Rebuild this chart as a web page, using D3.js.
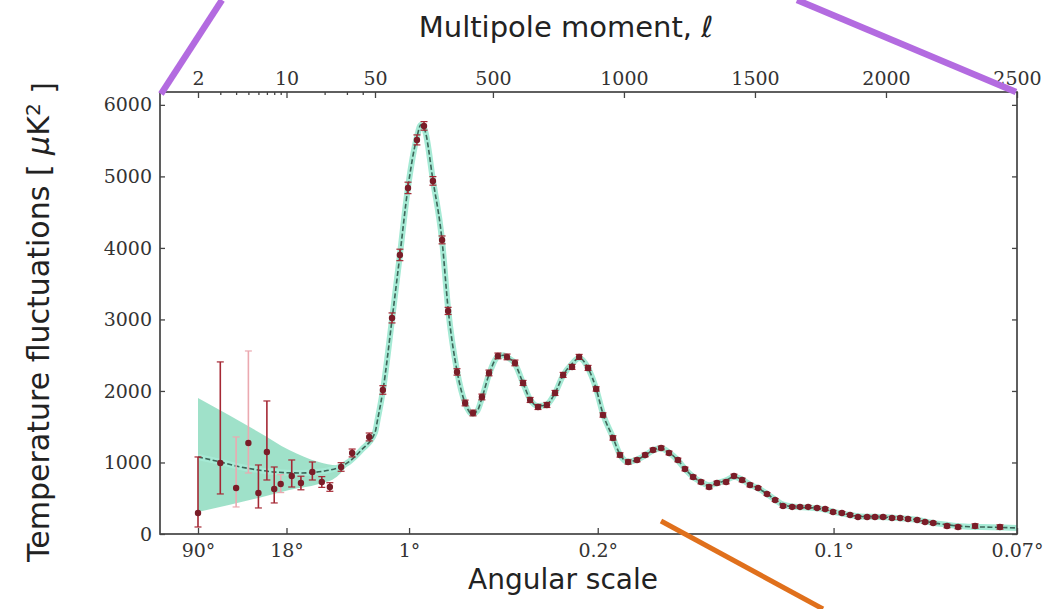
<!DOCTYPE html>
<html>
<head>
<meta charset="utf-8">
<script src="https://cdn.jsdelivr.net/npm/d3@7"></script>
<style>
  body { margin: 0; background: #fff; }
  .tick text { font-family: "DejaVu Serif", serif; font-size: 19px; fill: #333; }
  .tick line { stroke: #444; stroke-width: 1.3; }
  .axis-label { font-family: "DejaVu Sans", sans-serif; font-size: 28px; fill: #222; }
</style>
</head>
<body>
<div id="chart"></div>
<script>
// low multipoles (unbinned), value + asymmetric errors, D_l in uK^2
var lowEll = [2, 3, 4, 5, 6, 7, 8, 9, 11, 13, 16, 19, 22, 27, 33, 45];
var lowVal = [294, 993, 643, 1273, 573, 1147, 629, 699, 811, 713, 867, 727, 657, 937, 1133, 1357];
var lowErrDown = [196, 433, 265, 420, 209, 392, 195, 120, 154, 95, 112, 75, 60, 60, 55, 55];
var lowErrUp = [783, 1413, 714, 1286, 392, 713, 308, 130, 224, 95, 140, 75, 60, 60, 55, 55];
var paleEll = [4, 5, 9];

// binned high multipoles
var highEll = [80, 115, 145, 176, 210, 237, 271, 306, 329, 363, 394, 424, 458, 485, 519, 554, 584, 615, 642, 672,
    706, 737, 768, 802, 829, 863, 894, 920, 958, 985, 1016, 1050, 1081, 1111, 1142, 1172, 1206, 1233, 1264, 1294,
    1325, 1355, 1390, 1420, 1451, 1481, 1512, 1546, 1577, 1607, 1642, 1672, 1703, 1737, 1768, 1798, 1832, 1863, 1893, 1928,
    1958, 1989, 2023, 2054, 2084, 2119, 2149, 2180, 2233, 2275, 2340, 2435];
var highVal = [2014, 3021, 3902, 4839, 5510, 5706, 4937, 4112, 3119, 2266, 1832, 1692, 1916, 2252, 2490, 2476, 2392, 2112, 1874, 1776,
    1804, 1972, 2224, 2336, 2476, 2322, 2028, 1664, 1343, 1105, 1007, 1035, 1105, 1175, 1203, 1133, 1035, 909, 797, 727,
    657, 713, 727, 811, 755, 685, 643, 559, 475, 392, 378, 378, 378, 364, 350, 308, 294, 266, 238, 238,
    238, 238, 224, 224, 210, 196, 168, 154, 112, 98, 112, 98];
var highErr = [60, 70, 80, 80, 70, 60, 60, 55, 50, 45, 40, 40, 40, 40, 40, 40, 40, 35, 35, 35,
    35, 35, 35, 35, 35, 35, 30, 30, 30, 30, 30, 25, 25, 25, 25, 25, 25, 25, 25, 25,
    25, 25, 25, 25, 25, 25, 20, 20, 20, 20, 20, 20, 20, 20, 20, 20, 20, 20, 20, 20,
    20, 20, 20, 20, 20, 20, 20, 20, 25, 25, 30, 30];

// best fit model
var theoryEll = [2, 3, 4, 6, 8, 13, 20, 31, 39, 50, 60, 80, 115, 145, 176, 210, 225, 240, 271, 306,
    329, 363, 394, 420, 440, 458, 485, 519, 540, 554, 584, 615, 642, 672, 700, 737, 768, 802, 829, 863,
    894, 920, 958, 985, 1016, 1050, 1081, 1111, 1142, 1172, 1206, 1233, 1264, 1294, 1325, 1355, 1390, 1420, 1451, 1481,
    1512, 1546, 1577, 1607, 1650, 1700, 1750, 1800, 1850, 1900, 2000, 2100, 2200, 2300, 2400, 2500];
var theoryVal = [1077, 1007, 951, 895, 867, 853, 881, 1007, 1175, 1420, 1600, 2000, 3000, 3900, 4850, 5550, 5720, 5650, 4950, 4100,
    3150, 2280, 1830, 1680, 1720, 1900, 2230, 2480, 2500, 2470, 2380, 2110, 1880, 1790, 1800, 1970, 2220, 2380, 2460, 2320,
    2030, 1680, 1350, 1110, 1010, 1040, 1100, 1170, 1200, 1140, 1030, 910, 800, 730, 680, 710, 750, 800, 760, 690,
    640, 560, 480, 410, 380, 370, 355, 310, 275, 245, 235, 205, 145, 105, 95, 85];

// cosmic variance band at low l
var bandEll = [2, 3.5, 6, 10.5, 18, 25, 31];
var bandLow = [308, 406, 503, 615, 699, 800, 985];
var bandHigh = [1902, 1664, 1427, 1175, 1007, 960, 1030];

// axes
var topTicks = [2, 10, 50, 500, 1000, 1500, 2000, 2500];
var topMinor = [3, 4, 5, 6, 7, 8, 9, 20, 30, 40];
var angleEll = [2, 10, 180, 900, 1800, 2500];
var angleLabels = ["90°", "18°", "1°", "0.2°", "0.1°", "0.07°"];
var yTicks = [0, 1000, 2000, 3000, 4000, 5000, 6000];

var svgWidth = 1045;
var svgHeight = 609;
var plot = { left: 160, right: 1017, top: 92, bottom: 534 };

var svg = d3.select("#chart")
    .append("svg")
    .attr("width", svgWidth)
    .attr("height", svgHeight);

// x: log for l < 50, linear above (built as polylinear scale)
var xLog = d3.scaleLog().domain([2, 50]).range([198, 375]);
var xLin = d3.scaleLinear().domain([50, 2500]).range([375, plot.right]);
var knots = d3.range(2, 50, 0.25).concat([50, 2500]);
var x = d3.scaleLinear()
    .domain(knots)
    .range(knots.map(l => l < 50 ? xLog(l) : xLin(l)));

var y = d3.scaleLinear()
    .domain([0, 6180])
    .range([plot.bottom, plot.top]);

// band + model
var band = bandEll.map((l, i) => ({ l: l, lo: bandLow[i], hi: bandHigh[i] }));
svg.append("path")
    .datum(band)
    .attr("d", d3.area()
        .x(d => x(d.l))
        .y0(d => y(d.lo))
        .y1(d => y(d.hi))
        .curve(d3.curveMonotoneX))
    .attr("fill", "#8edcbf")
    .attr("opacity", 0.85);

var theory = theoryEll.map((l, i) => ({ l: l, v: theoryVal[i] }));
var line = d3.line()
    .x(d => x(d.l))
    .y(d => y(d.v))
    .curve(d3.curveMonotoneX);

svg.append("path")
    .datum(theory)
    .attr("d", line)
    .attr("fill", "none")
    .attr("stroke", "#a6ead5")
    .attr("stroke-width", 6);

svg.append("path")
    .datum(theory)
    .attr("d", line)
    .attr("fill", "none")
    .attr("stroke", "#3c6558")
    .attr("stroke-width", 1.6)
    .attr("stroke-dasharray", "5,2.5");

// data points
var points = lowEll.map((l, i) => ({ l: l, v: lowVal[i], dn: lowErrDown[i], up: lowErrUp[i], pale: paleEll.indexOf(l) >= 0 }))
    .concat(highEll.map((l, i) => ({ l: l, v: highVal[i], dn: highErr[i], up: highErr[i], pale: false })));

var pts = svg.append("g");
var barColor = d => d.pale ? "#eba9b0" : "#a52834";

pts.selectAll(".bar")
    .data(points)
    .enter()
    .append("line")
    .attr("x1", d => x(d.l))
    .attr("x2", d => x(d.l))
    .attr("y1", d => y(d.v - d.dn))
    .attr("y2", d => y(d.v + d.up))
    .attr("stroke", barColor)
    .attr("stroke-width", 1.6);

["dn", "up"].forEach(function (k) {
    pts.selectAll(".cap-" + k)
        .data(points)
        .enter()
        .append("line")
        .attr("x1", d => x(d.l) - 3.5)
        .attr("x2", d => x(d.l) + 3.5)
        .attr("y1", d => y(k == "dn" ? d.v - d.dn : d.v + d.up))
        .attr("y2", d => y(k == "dn" ? d.v - d.dn : d.v + d.up))
        .attr("stroke", barColor)
        .attr("stroke-width", 1.2);
});

pts.selectAll("circle")
    .data(points)
    .enter()
    .append("circle")
    .attr("cx", d => x(d.l))
    .attr("cy", d => y(d.v))
    .attr("r", 3.2)
    .attr("fill", "#7a1d28");

// frame + axes
svg.append("rect")
    .attr("x", plot.left)
    .attr("y", plot.top)
    .attr("width", plot.right - plot.left)
    .attr("height", plot.bottom - plot.top)
    .attr("fill", "none")
    .attr("stroke", "#444")
    .attr("stroke-width", 1.7);

function clean(g) { g.select(".domain").remove(); }

svg.append("g")
    .attr("transform", `translate(0, ${plot.top})`)
    .call(d3.axisTop(x).tickValues(topTicks).tickFormat(d3.format("d")).tickSize(-6).tickPadding(7))
    .call(clean);

svg.append("g")
    .attr("transform", `translate(0, ${plot.top})`)
    .call(d3.axisTop(x).tickValues(topMinor).tickFormat("").tickSize(-3))
    .call(clean);

svg.append("g")
    .attr("transform", `translate(0, ${plot.bottom})`)
    .call(d3.axisBottom(x).tickValues(angleEll).tickFormat((d, i) => angleLabels[i]).tickSize(-6).tickPadding(10))
    .call(clean);

svg.append("g")
    .attr("transform", `translate(${plot.left}, 0)`)
    .call(d3.axisLeft(y).tickValues(yTicks).tickFormat(d3.format("d")).tickSize(-5).tickPadding(8))
    .call(clean);

svg.append("g")
    .attr("transform", `translate(${plot.right}, 0)`)
    .call(d3.axisRight(y).tickValues(yTicks).tickFormat("").tickSize(-5))
    .call(clean);

// labels
var title = svg.append("text")
    .attr("class", "axis-label")
    .attr("x", 566)
    .attr("y", 37)
    .attr("text-anchor", "middle")
    .style("font-size", "29px")
    .text("Multipole moment, ");
title.append("tspan")
    .style("font-style", "italic")
    .text("ℓ");

svg.append("text")
    .attr("class", "axis-label")
    .attr("x", 563)
    .attr("y", 589)
    .attr("text-anchor", "middle")
    .text("Angular scale");

var ylab = svg.append("text")
    .attr("class", "axis-label")
    .attr("transform", "translate(49, 322) rotate(-90)")
    .attr("text-anchor", "middle")
    .style("font-size", "30px")
    .text("Temperature fluctuations [ ");
ylab.append("tspan")
    .style("font-style", "italic")
    .text("μ");
ylab.append("tspan")
    .text("K");
ylab.append("tspan")
    .attr("dy", "-0.45em")
    .style("font-size", "20px")
    .text("2");
ylab.append("tspan")
    .attr("dy", "0.45em")
    .text(" ]");

// annotation strokes over the figure
var purpleLines = [[222, 0, 161, 94], [797, 0, 1016, 92]];
var orangeLines = [[661, 521, 823, 609]];

svg.selectAll(".purple")
    .data(purpleLines)
    .enter()
    .append("line")
    .attr("x1", d => d[0]).attr("y1", d => d[1])
    .attr("x2", d => d[2]).attr("y2", d => d[3])
    .attr("stroke", "#b36be0")
    .attr("stroke-width", 6.5);

svg.selectAll(".orange")
    .data(orangeLines)
    .enter()
    .append("line")
    .attr("x1", d => d[0]).attr("y1", d => d[1])
    .attr("x2", d => d[2]).attr("y2", d => d[3])
    .attr("stroke", "#e0701c")
    .attr("stroke-width", 5);
</script>
</body>
</html>
